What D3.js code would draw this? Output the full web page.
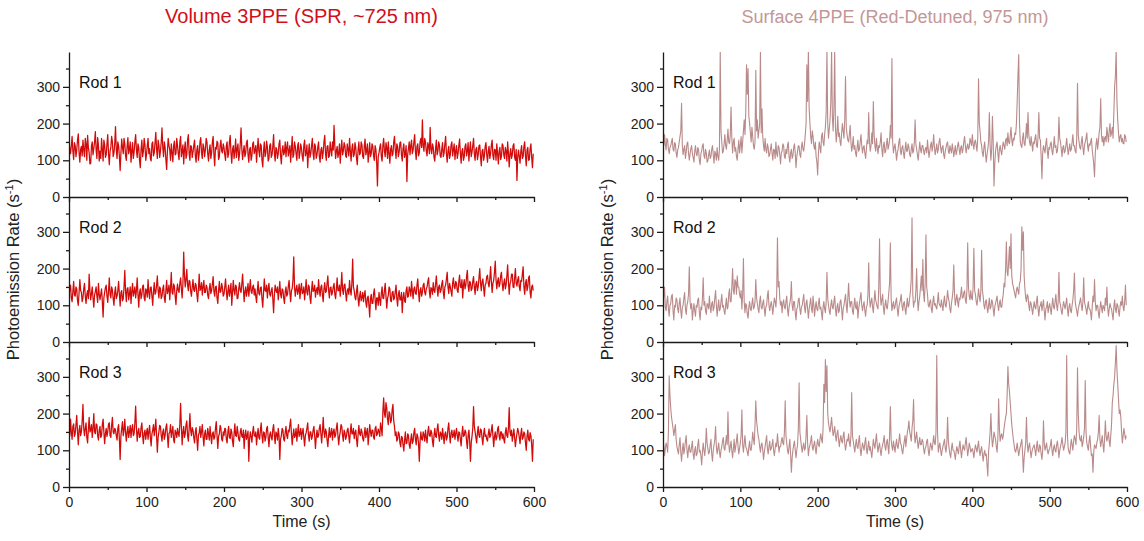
<!DOCTYPE html>
<html><head><meta charset="utf-8">
<script src="https://cdn.jsdelivr.net/npm/d3@7"></script>
<style>body{margin:0;background:#fff}svg{display:block}text{font-family:"Liberation Sans",Arial,sans-serif}</style>
</head><body><svg id="c" width="1144" height="541"></svg>
<script>
// sample times (s), 1 s bins
const times = d3.range(0, 600, 1);
const xTicks = [0,100,200,300,400,500,600];
const xMinor = [50,150,250,350,450,550];
const yTicks = [0,100,200,300];
const yMinor = [50,150,250,350];
const rodLabels = ["Rod 1","Rod 2","Rod 3"];
const titles = ["Volume 3PPE (SPR, ~725 nm)","Surface 4PPE (Red-Detuned, 975 nm)"];

const volRod1 = [
150,132,118,140,165,125,102,148,140,110,128,155,172,120,95,130,138,112,155,128,
110,160,145,100,168,135,120,90,92,140,150,115,132,150,178,128,105,162,140,98,
125,105,160,130,98,155,142,108,115,145,170,118,88,125,135,165,150,110,120,145,
192,130,105,150,140,110,72,120,158,135,118,160,145,112,100,138,162,118,130,150,
95,125,148,105,122,150,170,128,108,145,135,100,80,130,155,110,125,160,142,100,
115,140,160,118,132,105,98,145,150,112,120,148,176,130,105,155,140,108,125,150,
188,135,110,150,135,102,75,125,160,140,128,100,145,120,96,140,152,115,118,160,
140,118,102,148,165,110,125,142,90,130,150,105,115,155,170,118,100,140,138,108,
122,140,155,112,95,130,140,100,118,150,162,120,105,145,135,110,128,160,150,118,
98,128,142,105,120,150,165,115,85,135,130,152,148,102,110,140,155,125,120,145,
135,115,100,140,150,108,118,150,168,120,92,130,140,105,125,158,108,132,145,100,
115,145,188,130,102,125,140,110,120,148,155,115,95,130,135,100,112,145,150,118,
128,140,95,130,160,125,110,145,140,100,82,125,150,110,120,152,135,98,105,140,
145,108,115,138,170,120,98,135,130,105,118,145,155,112,90,128,140,115,122,150,
110,135,150,112,125,140,95,130,165,108,115,150,138,118,100,140,148,105,120,145,
132,110,98,140,155,112,120,142,80,120,145,108,118,140,160,118,102,145,138,105,
115,135,150,110,95,128,135,105,122,150,168,118,100,138,140,108,112,150,128,112,
150,128,195,140,105,125,138,108,118,145,92,130,155,115,125,148,140,112,108,145,
130,112,160,125,98,132,145,110,115,148,135,105,88,128,150,115,120,150,142,110,
105,138,158,115,125,145,95,120,148,110,118,145,138,112,100,140,130,95,30,110,
120,135,145,110,98,140,160,125,110,148,135,105,150,120,92,130,140,112,118,150,
165,128,105,145,138,110,122,148,150,115,98,132,145,108,118,140,42,115,132,150,
115,140,155,118,128,150,170,125,102,138,145,112,120,150,160,135,210,140,125,160,
150,125,112,148,140,118,190,130,118,145,135,108,98,132,155,115,125,150,142,112,
108,130,148,110,120,145,165,118,95,125,138,105,115,142,150,112,128,145,102,125,
140,105,118,140,158,120,92,125,132,100,110,138,145,112,125,148,98,128,150,110,
122,140,160,118,100,130,135,102,115,140,142,110,85,125,130,100,112,138,148,115,
95,125,138,105,118,142,155,112,102,130,128,100,145,118,90,125,135,102,110,145,
140,115,105,135,125,98,150,120,82,118,132,105,115,140,145,108,100,130,45,110,
128,110,92,125,140,105,110,138,150,112,85,128,135,100,102,132,145,108,80,118];

const volRod2 = [
130,142,155,120,110,138,165,128,125,150,145,112,100,135,170,140,135,110,120,145,
160,125,105,130,140,118,185,140,115,132,150,120,95,128,138,150,125,108,160,130,
115,130,145,110,68,120,135,148,155,125,108,140,175,130,120,150,142,118,100,135,
150,118,125,140,165,130,98,135,140,112,118,150,195,138,110,145,148,115,130,150,
105,138,160,125,135,150,120,140,175,130,95,135,145,118,128,152,155,120,112,145,
140,122,170,135,118,148,150,125,100,138,162,130,135,155,180,140,120,150,145,118,
125,145,155,120,108,140,168,132,140,155,115,148,190,135,130,158,152,125,102,140,
158,140,135,160,175,145,120,160,245,180,150,172,198,155,140,168,165,138,125,150,
170,142,138,160,155,130,110,145,185,140,145,162,128,150,168,135,135,155,150,128,
118,145,160,132,140,158,178,138,125,150,152,120,105,140,165,135,138,160,148,125,
130,150,172,140,115,138,155,125,140,160,100,135,168,140,128,155,150,118,120,145,
162,140,135,158,185,145,110,138,150,125,140,160,125,145,170,138,132,150,155,128,
145,125,108,140,165,132,128,148,150,118,95,135,172,140,138,155,120,145,160,130,
125,140,148,118,80,128,155,140,135,150,115,138,165,130,120,145,142,120,105,138,
150,125,130,152,168,135,110,140,145,170,232,150,125,145,155,130,140,158,118,145,
160,132,135,150,115,140,170,135,128,155,150,120,105,142,165,138,140,155,122,140,
148,130,170,142,125,150,155,128,110,145,162,135,138,160,180,140,120,148,150,128,
135,150,160,130,118,145,175,140,140,155,125,150,190,142,130,155,158,132,112,140,
145,130,168,140,128,160,226,150,140,122,115,138,155,118,98,125,138,112,120,135,
110,128,140,108,95,120,125,100,68,118,130,105,105,132,145,115,88,120,120,100,
135,115,100,132,150,120,118,140,160,125,92,118,128,150,145,112,110,135,138,115,
120,138,155,118,98,130,140,115,115,135,80,120,135,112,108,140,150,122,125,150,
142,125,165,140,118,145,150,132,130,155,172,138,110,140,148,125,135,155,160,135,
128,145,150,165,175,138,120,148,145,130,162,140,135,158,180,148,125,150,155,135,
140,158,168,135,118,150,155,172,190,150,132,160,150,138,125,160,175,150,145,165,
160,140,135,165,182,150,148,170,120,155,170,145,155,178,195,152,138,165,162,140,
145,165,178,150,130,158,165,140,150,175,200,160,140,165,172,148,125,155,160,178,
182,160,150,172,205,165,135,160,168,190,220,170,145,165,175,150,158,180,190,160,
140,160,172,145,155,180,210,165,130,158,165,185,185,150,148,175,200,160,152,170,
178,150,140,168,165,185,205,150,130,160,170,140,150,175,180,135,120,150,155,140];

const volRod3 = [
160,140,185,150,130,165,172,138,145,170,195,150,115,155,168,140,150,180,225,160,
140,160,175,135,120,158,190,150,155,170,135,160,200,150,145,172,170,140,128,155,
165,135,140,170,185,150,118,145,160,138,150,172,175,140,135,168,190,150,145,160,
155,140,128,160,170,130,75,140,160,178,140,155,185,148,125,150,165,135,150,168,
135,158,170,140,145,175,220,160,125,150,160,135,138,162,175,140,118,148,155,130,
148,160,130,150,168,135,112,145,155,170,140,158,185,140,95,135,150,168,165,140,
125,150,158,130,140,162,172,140,108,145,150,170,135,150,165,128,120,155,148,135,
160,145,138,170,228,165,115,150,165,135,145,170,180,140,125,158,200,155,140,162,
155,135,120,150,162,130,100,140,148,165,135,150,170,138,112,145,155,130,130,160,
145,128,165,140,118,145,150,130,135,160,178,140,105,138,145,168,160,130,125,150,
140,160,158,130,120,150,165,135,132,158,150,125,110,145,172,140,138,165,148,130,
125,150,160,138,135,155,105,140,155,130,140,152,70,130,150,138,122,150,165,140,
138,150,115,140,160,135,130,155,175,140,120,150,148,125,135,160,165,135,110,142,
150,135,128,158,170,140,118,150,145,128,160,140,75,130,140,160,155,130,125,150,
165,140,132,155,150,170,185,145,115,140,158,135,140,160,125,148,170,138,145,160,
130,148,160,135,112,140,148,160,175,140,125,150,150,130,138,155,165,140,105,135,
155,135,140,160,170,145,120,150,190,150,135,158,150,128,110,140,162,135,145,160,
128,150,158,135,142,160,175,140,115,138,150,170,165,140,125,155,148,130,138,155,
160,138,120,150,172,145,145,160,132,148,155,130,110,142,168,145,140,158,150,132,
125,145,162,135,148,160,115,140,170,150,138,155,155,135,130,160,165,140,145,158,
150,138,175,160,140,205,243,200,190,230,215,185,170,205,200,175,182,210,225,180,
165,140,150,125,130,150,145,120,110,138,135,115,98,128,150,118,120,145,140,115,
105,130,145,118,125,148,160,130,115,145,138,120,70,125,150,130,128,150,142,125,
155,135,120,150,165,140,138,155,148,125,110,140,160,138,135,158,172,140,125,150,
145,130,160,140,118,145,150,128,135,160,175,140,120,148,155,135,140,155,130,145,
160,140,125,150,148,130,112,145,165,138,140,155,150,125,105,140,155,125,70,120,
138,160,219,165,150,135,120,148,165,140,135,158,155,132,115,145,160,138,142,130,
125,145,158,135,140,155,170,140,110,138,150,128,135,158,165,140,128,150,150,132,
145,130,120,148,162,140,135,160,216,150,140,155,125,140,158,135,110,130,145,160,
150,135,118,145,160,130,135,150,145,120,100,138,155,130,125,148,140,115,70,130];

const surfRod1 = [
150,140,170,145,128,160,155,130,118,135,140,150,160,130,125,148,145,120,108,128,
135,150,165,180,255,140,115,130,140,105,122,145,150,120,100,118,132,140,118,108,
95,125,140,118,112,135,130,100,88,118,125,140,145,112,105,130,120,95,98,115,
128,105,110,130,140,115,92,125,118,100,135,110,100,130,400,180,150,120,125,145,
170,140,130,155,185,150,145,170,245,160,120,150,160,125,135,110,100,130,155,120,
140,165,120,150,180,210,170,230,360,280,350,220,200,175,150,190,165,140,130,150,
345,180,210,160,180,200,400,175,240,165,140,125,160,130,120,145,135,110,115,130,
145,120,100,130,128,105,150,118,110,140,135,115,90,120,125,145,140,110,105,130,
118,140,150,110,95,120,130,105,112,135,145,120,80,110,125,140,138,115,108,135,
150,130,125,145,170,200,360,260,400,240,200,165,145,180,165,140,130,150,110,95,
60,120,150,135,120,165,175,150,140,170,190,230,400,200,160,185,210,260,400,220,
180,240,400,190,150,175,220,165,175,150,140,175,200,180,160,210,328,190,170,155,
150,170,195,150,125,140,165,130,140,120,110,135,155,125,130,150,170,140,120,135,
140,120,105,130,155,145,230,150,125,140,175,145,260,170,140,125,160,135,118,140,
135,150,175,130,110,140,150,120,125,145,160,130,140,155,195,160,377,150,120,135,
145,125,100,120,130,150,160,125,115,135,140,120,105,130,150,125,125,145,135,115,
110,130,145,120,125,150,210,145,130,115,100,125,150,130,120,140,140,125,115,130,
135,120,155,130,108,125,140,150,125,140,170,135,115,130,145,120,130,150,160,135,
120,135,140,115,105,125,135,145,150,125,118,140,130,120,145,130,110,125,140,115,
125,140,150,130,115,135,140,120,130,150,165,140,120,135,145,130,135,160,150,140,
170,145,130,150,155,140,125,160,322,200,180,150,140,120,110,135,150,120,95,115,
130,150,230,140,100,130,220,150,30,90,125,140,150,120,95,130,140,125,115,135,
150,140,130,155,160,140,175,150,145,165,190,155,140,160,155,175,170,200,260,330,
388,200,150,140,135,160,175,145,140,165,200,160,230,170,150,140,165,145,125,150,
145,160,170,140,135,165,230,160,155,110,50,120,140,130,120,145,160,125,105,135,
130,145,150,125,115,140,165,135,140,120,125,150,218,160,150,130,110,135,140,120,
125,140,160,135,115,130,145,125,130,150,170,140,140,125,120,160,310,170,150,135,
130,150,165,135,115,140,150,160,175,140,125,145,140,150,160,130,110,90,55,120,
145,160,130,150,175,190,268,170,150,165,140,160,165,150,190,170,150,180,200,165,
175,190,160,230,300,330,400,260,210,175,150,165,170,150,160,145,145,170,165,150];

const surfRod2 = [
110,125,150,95,85,110,125,90,70,100,105,125,130,85,60,100,95,120,115,90,
80,105,120,85,65,95,100,120,135,90,75,100,110,130,205,110,90,105,60,85,
105,85,70,100,95,115,120,80,60,95,88,120,175,100,110,85,75,105,100,90,
125,95,80,105,110,85,95,120,140,100,70,95,115,85,90,110,130,95,100,85,
75,100,120,90,95,130,145,110,110,150,200,140,130,170,165,130,180,150,150,130,
120,140,90,130,227,110,80,105,100,75,65,95,110,90,85,105,120,90,95,110,
170,120,105,90,80,110,125,95,90,105,115,90,70,95,100,125,140,100,85,100,
110,95,75,100,120,110,95,130,284,150,165,120,100,110,80,105,115,95,90,110,
125,90,70,95,105,120,165,100,85,110,110,80,60,90,95,115,120,90,75,95,
100,115,130,95,80,105,115,90,65,90,105,120,90,80,125,100,70,95,110,90,
85,105,120,90,95,80,60,95,110,90,80,110,190,120,100,85,75,100,115,95,
90,110,125,90,70,95,105,80,85,110,115,90,60,90,100,115,130,100,80,120,
160,115,95,110,110,85,75,100,120,95,90,110,65,90,105,120,135,100,85,100,
110,85,70,95,100,130,216,120,95,110,120,95,80,110,140,115,105,95,90,150,
281,130,100,115,130,95,75,100,115,95,90,110,135,160,270,120,85,100,110,90,
95,110,120,90,70,95,105,115,130,100,85,105,110,90,75,100,120,95,100,120,
140,170,338,130,95,110,110,140,200,120,85,110,125,150,180,140,225,130,110,160,
292,150,130,100,95,110,115,90,80,110,125,100,105,95,90,110,135,105,100,95,
115,100,85,110,125,100,95,115,140,120,110,90,80,105,120,140,210,130,100,115,
130,110,95,120,115,130,150,120,120,135,140,115,105,140,270,150,125,115,140,120,
115,150,255,140,130,110,100,120,145,125,110,140,250,140,125,100,90,110,115,95,
80,100,120,90,95,115,110,90,70,95,105,115,125,100,85,105,115,95,95,115,
130,160,150,200,273,190,180,220,260,200,295,180,160,150,140,130,120,140,150,140,
130,160,165,200,314,250,300,180,145,120,110,130,125,100,85,110,105,90,75,95,
110,95,90,110,125,90,70,95,100,110,85,100,115,85,60,90,95,110,80,95,
105,90,75,100,120,95,90,110,130,100,85,110,190,110,100,85,75,95,110,100,
90,105,120,90,70,95,105,85,80,100,115,140,188,110,95,85,70,90,100,110,
120,100,85,110,175,110,100,90,75,95,110,90,90,80,60,95,125,110,170,110,
85,100,100,80,65,90,110,95,80,100,95,85,120,100,150,95,70,90,105,95,
90,75,60,95,115,90,80,105,100,85,70,95,110,100,125,95,85,110,155,100];

const surfRod3 = [
100,115,85,105,120,110,95,150,303,250,215,190,175,160,140,155,170,130,110,100,
90,115,135,95,70,100,120,90,105,125,140,100,80,105,115,95,95,110,125,90,
75,100,110,85,90,115,130,95,100,85,60,95,120,100,85,110,160,120,105,90,
95,115,130,90,70,100,115,130,165,110,90,105,120,95,80,100,110,125,135,105,
100,120,140,115,205,120,95,110,125,100,80,105,130,95,110,125,145,110,90,105,
120,140,210,115,95,120,140,110,105,95,85,110,125,100,100,120,150,130,115,170,
235,180,160,140,130,110,95,115,120,100,75,95,110,125,140,105,90,110,125,100,
105,115,130,100,85,105,120,110,145,120,95,110,110,125,135,120,115,150,235,140,
120,100,90,110,130,90,40,80,100,115,125,100,80,100,115,160,284,150,130,110,
95,110,120,100,105,140,195,120,85,105,115,125,140,110,100,115,125,105,90,115,
130,115,110,130,145,130,120,160,280,230,347,260,330,200,175,160,150,170,190,160,
140,150,165,140,125,145,155,130,110,130,140,125,120,140,150,120,100,115,130,125,
145,120,110,140,257,140,125,110,95,115,130,110,105,125,140,105,85,105,120,110,
100,120,135,105,90,110,125,100,110,95,80,105,130,115,105,125,145,115,95,110,
120,100,85,105,115,125,140,110,100,120,130,110,90,140,219,130,110,100,125,110,
95,115,130,110,105,125,145,120,115,100,90,110,125,140,110,130,150,160,180,150,
140,125,160,180,238,150,120,135,150,125,105,120,135,115,115,130,125,105,90,105,
110,125,130,100,85,105,120,110,100,120,140,120,115,150,358,150,95,110,120,100,
85,100,110,120,130,105,95,120,190,125,105,90,80,105,120,100,100,90,75,95,
110,100,90,110,125,100,80,100,115,105,100,120,135,110,85,100,120,110,95,100,
105,95,80,100,115,105,95,110,125,100,85,100,110,90,70,90,100,85,90,60,
30,95,120,150,200,140,110,125,150,140,130,110,95,130,240,160,125,140,145,130,
140,160,175,190,200,250,328,280,260,230,200,170,150,130,115,100,95,105,120,100,
85,100,110,120,130,90,40,80,100,120,190,120,95,110,120,100,80,95,105,110,
115,100,85,110,125,100,95,115,110,90,75,100,180,120,100,110,120,100,90,100,
105,115,130,100,85,105,115,100,95,115,125,105,80,100,110,120,135,115,100,110,
120,150,358,140,105,95,90,110,130,115,100,125,140,130,115,160,325,200,150,130,
125,140,110,120,135,160,290,150,120,110,100,125,140,110,85,90,40,95,115,110,
105,120,130,150,195,130,110,125,140,115,95,130,180,140,125,135,150,125,110,140,
170,230,250,280,300,340,385,320,280,240,200,210,190,150,120,140,160,145,130,140];

const columns = [
  {title: titles[0], titleColor: "#d0101a", titleSize: 20, color: "#d20a0a", lw: 1.25, x0: 69, x1: 534, series: [volRod1, volRod2, volRod3], ylabX: 19},
  {title: titles[1], titleColor: "#c39797", titleSize: 18, color: "#b98a8a", lw: 1.1, x0: 663, x1: 1127, series: [surfRod1, surfRod2, surfRod3], ylabX: 613}
];
const panelTops = [52, 197, 342];
const panelH = 145;
const axisColor = "#1a1a1a";

const svg = d3.select("#c");

columns.forEach((col, ci) => {
  const x = d3.scaleLinear().domain([0, 600]).range([col.x0, col.x1]);
  svg.append("text").attr("x", (col.x0 + col.x1) / 2).attr("y", 23)
    .attr("text-anchor", "middle").attr("font-size", col.titleSize).attr("fill", col.titleColor).text(col.title);

  col.series.forEach((vals, pi) => {
    const top = panelTops[pi];
    const y = d3.scaleLinear().domain([0, 395]).range([top + panelH, top]);
    const g = svg.append("g");
    const clipId = `clip${ci}${pi}`;
    svg.append("clipPath").attr("id", clipId).append("rect")
      .attr("x", col.x0).attr("y", top).attr("width", col.x1 - col.x0).attr("height", panelH);

    const line = d3.line().x((d, i) => x(times[i])).y(d => y(d));
    g.append("path").datum(vals).attr("clip-path", `url(#${clipId})`)
      .attr("d", line).attr("fill", "none").attr("stroke", col.color)
      .attr("stroke-width", col.lw).attr("stroke-linejoin", "round");

    const ya = g.append("g").attr("transform", `translate(${col.x0},0)`)
      .call(d3.axisLeft(y).tickValues(yTicks).tickSize(6).tickSizeOuter(0).tickPadding(3));
    ya.append("g").call(d3.axisLeft(y).tickValues(yMinor).tickSize(3).tickFormat(""))
      .select(".domain").remove();
    ya.selectAll("text").attr("font-size", 14).attr("fill", "#222")
      .attr("font-family", "Liberation Sans, Arial, sans-serif");
    ya.selectAll("line,path").attr("stroke", axisColor).attr("stroke-width", 1.3);

    const xa = g.append("g").attr("transform", `translate(0,${top + panelH})`)
      .call(d3.axisBottom(x).tickValues(xTicks).tickSize(5).tickSizeOuter(0).tickPadding(5)
        .tickFormat(pi === 2 ? d3.format("d") : ""));
    xa.append("g").call(d3.axisBottom(x).tickValues(xMinor).tickSize(3).tickFormat(""))
      .select(".domain").remove();
    xa.selectAll("text").attr("font-size", 14).attr("fill", "#222")
      .attr("font-family", "Liberation Sans, Arial, sans-serif");
    xa.selectAll("line,path").attr("stroke", axisColor).attr("stroke-width", 1.3);

    g.append("text").attr("x", col.x0 + 10).attr("y", top + 36)
      .attr("font-size", 16).attr("fill", "#111").text(rodLabels[pi]);
  });

  svg.append("text").attr("x", (col.x0 + col.x1) / 2).attr("y", 527)
    .attr("text-anchor", "middle").attr("font-size", 16).attr("fill", "#222").text("Time (s)");

  const yl = svg.append("text").attr("transform", `translate(${col.ylabX},${panelTops[1] + panelH / 2}) rotate(-90)`)
    .attr("text-anchor", "middle").attr("font-size", 16.5).attr("fill", "#222");
  yl.append("tspan").text("Photoemission Rate (s");
  yl.append("tspan").attr("font-size", 11).attr("dy", -6).text("-1");
  yl.append("tspan").attr("dy", 6).text(")");
});
</script></body></html>
